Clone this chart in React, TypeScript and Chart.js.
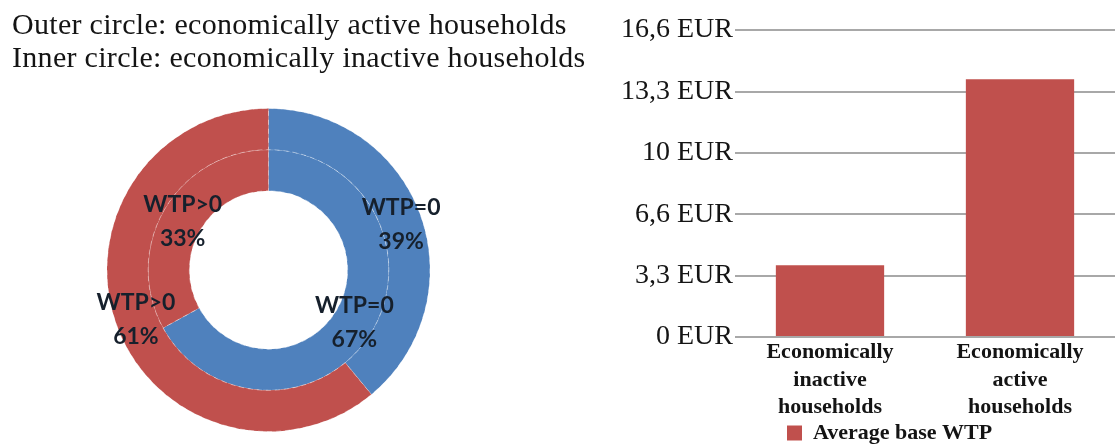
import React, { useEffect, useRef } from 'react';
import { Chart, registerables } from 'chart.js';

Chart.register(...registerables);

// ---------- data ----------
const titleLines = [
  'Outer circle: economically active households',
  'Inner circle: economically inactive households',
];
const ringCategories = ['WTP=0', 'WTP>0'];
const outerValues = [39, 61]; // economically active households
const innerValues = [67, 33]; // economically inactive households
const ringColors = ['#4F81BD', '#C0504D'];

const barCategories = [
  ['Economically', 'inactive', 'households'],
  ['Economically', 'active', 'households'],
];
const barValues = [3.9, 14.0];
const barSeriesLabel = 'Average base WTP';
const yTickValues = [0, 3.33, 6.67, 10, 13.33, 16.67];
const yTickLabels = ['0 EUR', '3,3 EUR', '6,6 EUR', '10 EUR', '13,3 EUR', '16,6 EUR'];

const SERIF = "'Liberation Serif', 'Times New Roman', serif";
const TEXT = '#141414';

const ringLabelPlugin = {
  id: 'ringLabels',
  afterDatasetsDraw(chart: any) {
    const ctx = chart.ctx;
    ctx.save();
    ctx.font = "bold 23px Lato, 'Open Sans', sans-serif";
    ctx.fillStyle = '#16202c';
    ctx.textAlign = 'center';
    ctx.textBaseline = 'middle';
    chart.data.datasets.forEach((ds: any, di: number) => {
      const meta = chart.getDatasetMeta(di);
      meta.data.forEach((arc: any, i: number) => {
        const p = arc.tooltipPosition(false);
        ctx.fillText(String(chart.data.labels[i]), p.x, p.y - 15);
        ctx.fillText(ds.data[i] + '%', p.x, p.y + 19);
      });
    });
    ctx.restore();
  },
};

const legendIndentPlugin = {
  id: 'legendIndent',
  afterLayout(chart: any) {
    const l = chart.legend;
    if (!l) return;
    const dx = chart.chartArea.left + 52 - l.left;
    l.left += dx;
    l.right += dx;
  },
};

function DonutChart() {
  const ref = useRef<HTMLCanvasElement>(null);
  useEffect(() => {
    const chart = new Chart(ref.current as HTMLCanvasElement, {
      type: 'doughnut',
      data: {
        labels: ringCategories,
        datasets: [
          {
            label: 'Economically active households',
            data: outerValues,
            backgroundColor: ringColors,
            borderColor: 'rgba(255,255,255,0.4)',
            borderWidth: 1,
            borderDash: [5, 4],
          },
          {
            label: 'Economically inactive households',
            data: innerValues,
            backgroundColor: ringColors,
            borderColor: 'rgba(255,255,255,0.4)',
            borderWidth: 1,
            borderDash: [5, 4],
          },
        ],
      },
      options: {
        animation: false,
        responsive: true,
        maintainAspectRatio: false,
        cutout: '49%',
        layout: { padding: { left: 11, right: 74, top: 108, bottom: 14 } },
        plugins: {
          legend: { display: false },
          tooltip: { enabled: false },
          title: { display: false },
        },
      },
      plugins: [ringLabelPlugin],
    } as any);
    return () => chart.destroy();
  }, []);
  return <canvas ref={ref} />;
}

function BarChart() {
  const ref = useRef<HTMLCanvasElement>(null);
  useEffect(() => {
    const chart = new Chart(ref.current as HTMLCanvasElement, {
      type: 'bar',
      data: {
        labels: barCategories,
        datasets: [
          {
            label: barSeriesLabel,
            data: barValues,
            backgroundColor: '#C0504D',
            borderWidth: 0,
            categoryPercentage: 1,
            barPercentage: 0.57,
          },
        ],
      },
      options: {
        animation: false,
        responsive: true,
        maintainAspectRatio: false,
        layout: { padding: { left: 0, right: 0, top: 30, bottom: 0 } },
        scales: {
          x: {
            grid: { display: false, drawTicks: false },
            border: { display: false },
            afterFit: (s: any) => {
              s.height = 85;
            },
            ticks: {
              color: TEXT,
              maxRotation: 0,
              autoSkip: false,
              padding: 2,
              font: { family: SERIF, size: 22, weight: 'bold', lineHeight: 1.25 },
            },
          },
          y: {
            min: 0,
            max: 16.67,
            afterBuildTicks: (s: any) => {
              s.ticks = yTickValues.map((v) => ({ value: v }));
            },
            afterFit: (s: any) => {
              s.width = 135;
            },
            ticks: {
              color: TEXT,
              padding: 2,
              font: { family: SERIF, size: 28 },
              callback: (_v: any, i: number) => yTickLabels[i],
            },
            grid: { color: '#a8a8a8', lineWidth: 2, drawTicks: false },
            border: { display: false },
          },
        },
        plugins: {
          tooltip: { enabled: false },
          legend: {
            position: 'bottom',
            align: 'start',
            labels: {
              color: TEXT,
              boxWidth: 15,
              boxHeight: 15,
              padding: 0,
              font: { family: SERIF, size: 22, weight: 'bold' },
            },
          },
        },
      },
      plugins: [legendIndentPlugin],
    } as any);
    return () => chart.destroy();
  }, []);
  return <canvas ref={ref} />;
}

export default function App() {
  return (
    <div
      style={{
        position: 'absolute',
        left: 0,
        top: 0,
        width: 1115,
        height: 446,
        overflow: 'hidden',
        background: '#fff',
      }}
    >
      <div style={{ position: 'absolute', left: 0, top: 0, width: 600, height: 446 }}>
        <DonutChart />
      </div>
      <div
        style={{
          position: 'absolute',
          left: 12,
          top: 7,
          width: 590,
          fontFamily: SERIF,
          fontSize: 30,
          lineHeight: '33px',
          letterSpacing: '0.3px',
          color: TEXT,
          whiteSpace: 'nowrap',
        }}
      >
        {titleLines.map((t) => (
          <div key={t}>{t}</div>
        ))}
      </div>
      <div style={{ position: 'absolute', left: 600, top: 0, width: 515, height: 454 }}>
        <BarChart />
      </div>
    </div>
  );
}
